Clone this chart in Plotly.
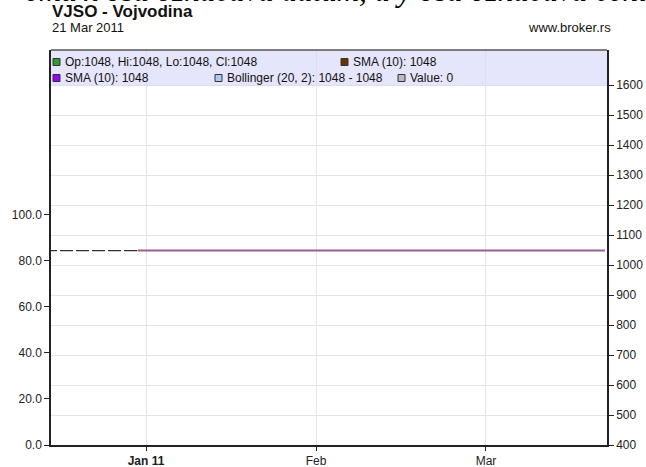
import plotly.graph_objects as go

# ---------------- data ----------------
pre_dates = ["2010-12-16", "2010-12-17", "2010-12-20", "2010-12-21", "2010-12-22",
             "2010-12-23", "2010-12-24", "2010-12-27", "2010-12-28", "2010-12-29",
             "2010-12-30", "2010-12-31"]
pre_values = [1048, 1048, 1048, 1048, 1048, 1048, 1048, 1048, 1048, 1048, 1048, 1048]

dates = ["2010-12-31",
         "2011-01-03", "2011-01-04", "2011-01-05", "2011-01-06", "2011-01-10",
         "2011-01-11", "2011-01-12", "2011-01-13", "2011-01-14", "2011-01-17",
         "2011-01-18", "2011-01-19", "2011-01-20", "2011-01-21", "2011-01-24",
         "2011-01-25", "2011-01-26", "2011-01-27", "2011-01-28", "2011-01-31",
         "2011-02-01", "2011-02-02", "2011-02-03", "2011-02-04", "2011-02-07",
         "2011-02-08", "2011-02-09", "2011-02-10", "2011-02-11", "2011-02-14",
         "2011-02-15", "2011-02-16", "2011-02-17", "2011-02-18", "2011-02-21",
         "2011-02-22", "2011-02-23", "2011-02-24", "2011-02-25", "2011-02-28",
         "2011-03-01", "2011-03-02", "2011-03-03", "2011-03-04", "2011-03-07",
         "2011-03-08", "2011-03-09", "2011-03-10", "2011-03-11", "2011-03-14",
         "2011-03-15", "2011-03-16", "2011-03-17", "2011-03-18", "2011-03-21"]
close = [1048,
         1048, 1048, 1048, 1048, 1048, 1048, 1048, 1048, 1048, 1048,
         1048, 1048, 1048, 1048, 1048, 1048, 1048, 1048, 1048, 1048,
         1048, 1048, 1048, 1048, 1048, 1048, 1048, 1048, 1048, 1048,
         1048, 1048, 1048, 1048, 1048, 1048, 1048, 1048, 1048, 1048,
         1048, 1048, 1048, 1048, 1048, 1048, 1048, 1048, 1048, 1048,
         1048, 1048, 1048, 1048, 1048]

all_dates = pre_dates[:-1] + dates

tick_dates = ["2011-01-03", "2011-02-01", "2011-03-01"]
tick_text = ["<b>Jan 11</b>", "Feb", "Mar"]

left_ticks = [0, 20, 40, 60, 80, 100]
right_ticks = [400, 500, 600, 700, 800, 900, 1000, 1100, 1200, 1300, 1400, 1500, 1600]

legend_rows = [
    [("#339933", "Op:1048, Hi:1048, Lo:1048, Cl:1048"), ("#663300", "SMA (10): 1048")],
    [("#9900ff", "SMA (10): 1048"), ("#aaccee", "Bollinger (20, 2): 1048 - 1048"), ("#bbbbbb", "Value: 0")],
]

title = "VJSO - Vojvodina"
date_text = "21 Mar 2011"
site_text = "www.broker.rs"
doc_text = "emu x osa označava datum, a y osa označava cenu, odno"

# ---------------- geometry ----------------
W, H = 646, 467
L, R, T, B = 51, 607, 50, 445
PW, PH = R - L, B - T


def px(x):
    return (x - L) / PW


def py(y):
    return (B - y) / PH


FONT = "Liberation Sans, Arial, sans-serif"
AX = "#222222"

fig = go.Figure()

# invisible trace so the left (value) axis is drawn
fig.add_trace(go.Scatter(x=[all_dates[0]], y=[0], yaxis="y", mode="markers",
                         marker=dict(opacity=0), hoverinfo="skip", showlegend=False))
fig.add_trace(go.Scatter(
    x=pre_dates, y=pre_values, yaxis="y2", mode="lines",
    line=dict(color="#333333", width=1.3, dash="13px,3px"), hoverinfo="skip", showlegend=False))
fig.add_trace(go.Scatter(
    x=dates, y=close, yaxis="y2", mode="lines",
    line=dict(color="#9a5f8c", width=2), showlegend=False))

fig.update_layout(
    template=None,
    width=W, height=H,
    margin=dict(l=L, r=W - R, t=T, b=H - B, pad=0, autoexpand=False),
    paper_bgcolor="white", plot_bgcolor="white",
    font=dict(family=FONT, size=12, color=AX),
    xaxis=dict(
        type="category", categoryorder="array", categoryarray=all_dates,
        range=[0.82, 66.24], tickmode="array", tickvals=tick_dates, ticktext=tick_text,
        showgrid=True, gridcolor="#e4e4e4", gridwidth=1, automargin=False,
        showline=True, linecolor=AX, linewidth=1.5,
        ticks="outside", ticklen=4, tickcolor=AX,
        tickfont=dict(size=12, color=AX), zeroline=False,
    ),
    yaxis=dict(
        range=[0, 171.7], tickmode="array", tickvals=left_ticks,
        tickformat=".1f", showgrid=False, zeroline=False, automargin=False,
        showline=True, linecolor=AX, linewidth=1.5,
        ticks="outside", ticklen=5, tickcolor=AX,
        tickfont=dict(size=12, color=AX),
    ),
    yaxis2=dict(
        range=[400, 1716.7], overlaying="y", side="right",
        tickmode="array", tickvals=right_ticks, automargin=False,
        showgrid=True, gridcolor="#e4e4e4", gridwidth=1, zeroline=False,
        showline=True, linecolor=AX, linewidth=1.5,
        ticks="outside", ticklen=5, tickcolor=AX,
        tickfont=dict(size=12, color=AX),
    ),
)

shapes = []
# legend box
shapes.append(dict(type="rect", xref="paper", yref="paper", x0=0, x1=1, y0=py(86), y1=1,
                   fillcolor="rgba(215,215,250,0.65)", line=dict(width=0), layer="above"))
shapes.append(dict(type="line", xref="paper", yref="paper", x0=0, x1=1, y0=1, y1=1,
                   line=dict(color="#555555", width=1.5)))

ann = []
row_y = [62, 78]
row_x = [[53, 341], [53, 215, 398]]
for r, row in enumerate(legend_rows):
    for c, (col, txt) in enumerate(row):
        x0 = row_x[r][c]
        yc = row_y[r]
        shapes.append(dict(type="rect", xref="paper", yref="paper",
                           x0=px(x0), x1=px(x0 + 7), y0=py(yc + 3.5), y1=py(yc - 3.5),
                           fillcolor=col, line=dict(color="#333333", width=1), layer="above"))
        ann.append(dict(xref="paper", yref="paper", x=px(x0 + 10), y=py(yc),
                        xanchor="left", yanchor="middle", showarrow=False,
                        text=txt, font=dict(size=12, color="#111111", family=FONT)))

ann.append(dict(xref="paper", yref="paper", x=px(50), y=py(12), xanchor="left", yanchor="middle",
                showarrow=False, text="<b>" + title + "</b>",
                font=dict(size=17, color="#111111", family=FONT)))
ann.append(dict(xref="paper", yref="paper", x=px(50), y=py(28), xanchor="left", yanchor="middle",
                showarrow=False, text=date_text, font=dict(size=13, color="#111111", family=FONT)))
ann.append(dict(xref="paper", yref="paper", x=px(613), y=py(28), xanchor="right", yanchor="middle",
                showarrow=False, text=site_text, font=dict(size=13, color="#111111", family=FONT)))
ann.append(dict(xref="paper", yref="paper", x=px(23), y=py(10), xanchor="left", yanchor="bottom",
                showarrow=False, text="<i>" + doc_text + "</i>",
                font=dict(size=31, color="#000000", family="Liberation Serif, Times New Roman, serif")))

fig.update_layout(shapes=shapes, annotations=ann)

fig.write_html("out.html", post_script="document.body.style.margin='0';",
               config={"displayModeBar": False})
